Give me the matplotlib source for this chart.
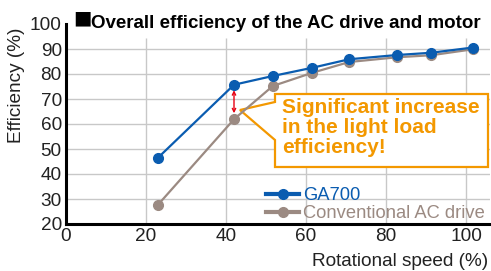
import matplotlib
matplotlib.use('Agg')
import matplotlib.pyplot as plt
from matplotlib.patches import Polygon

plt.rcParams['font.family'] = ['Liberation Sans', 'DejaVu Sans']

speed = [23, 42, 51.7, 61.6, 70.8, 82.8, 91.3, 101.8]
ga700 = [46.5, 75.7, 79.2, 82.5, 85.9, 87.6, 88.5, 90.6]
conventional = [27.7, 61.9, 75.2, 80.5, 84.8, 86.7, 87.5, 89.9]
xticks = [0, 20, 40, 60, 80, 100]
yticks = [20, 30, 40, 50, 60, 70, 80, 90, 100]
series_names = ['GA700', 'Conventional AC drive']
title = 'Overall efficiency of the AC drive and motor'
callout_text = 'Significant increase\nin the light load\nefficiency!'

BLUE = '#0a5cb0'
GRAY = '#9b8a82'
ORANGE = '#f39800'
GRID = '#c8c8c8'
FS = 13.7

W, H = 491, 271
fig = plt.figure(figsize=(W / 100, H / 100), dpi=100)


def fx(x):
    return x / W


def fy(y):
    return 1 - y / H


ax = fig.add_axes([fx(66), fy(224), fx(490) - fx(66), fy(24) - fy(224)])
ax.set_xlim(0, 106)
ax.set_ylim(20, 100)

# grid
for yv in yticks[1:-1]:
    ax.axhline(yv, color=GRID, lw=1.0, zorder=1)
for xv in xticks[1:]:
    ax.vlines(xv, 20, 94.4, color=GRID, lw=1.0, zorder=1)

ax.plot(speed, conventional, color=GRAY, lw=1.6, marker='o', ms=7,
        zorder=3, label=series_names[1])
ax.plot(speed, ga700, color=BLUE, lw=1.6, marker='o', ms=7,
        zorder=4, label=series_names[0])

for s in ['top', 'right']:
    ax.spines[s].set_visible(False)
for s in ['left', 'bottom']:
    ax.spines[s].set_linewidth(2.2)
    ax.spines[s].set_color('black')

ax.set_xticks(xticks)
ax.set_yticks(yticks)
ax.tick_params(length=0, labelsize=FS, colors='#222222', pad=3)
ax.tick_params(axis='x', pad=3)

# red double arrow between series at x=42
ax.annotate('', xy=(speed[1], ga700[1] - 2.2), xytext=(speed[1], conventional[1] + 2.4),
            arrowprops=dict(arrowstyle='<->', color='#e60012', lw=1.0,
                            mutation_scale=6, shrinkA=0, shrinkB=0), zorder=5)

# callout
pts = [(275, 94), (488, 94), (488, 167), (275, 167), (275, 140), (240, 110), (275, 102)]
poly = Polygon([(fx(x), fy(y)) for x, y in pts], closed=True, transform=fig.transFigure,
               facecolor='white', edgecolor=ORANGE, lw=1.6, zorder=2, joinstyle='miter')
ax.add_artist(poly)
poly.set_zorder(2)
fig.text(fx(282), fy(98), callout_text, color=ORANGE, fontsize=15, fontweight='bold',
         va='top', ha='left', linespacing=1.08)

# legend (GA700 first)
h_, l_ = ax.get_legend_handles_labels()
h_ = [h_[1], h_[0]]
l_ = [l_[1], l_[0]]
leg = ax.legend(h_, l_, loc='upper left', bbox_to_anchor=(fx(266), fy(187)),
                bbox_transform=fig.transFigure, frameon=False, fontsize=13.2,
                handlelength=1.8, handletextpad=0.2, labelspacing=0.05,
                borderaxespad=0, borderpad=0)
for t, c in zip(leg.get_texts(), [BLUE, GRAY]):
    t.set_color(c)
for h in leg.legend_handles:
    h.set_linewidth(3)
    h.set_markersize(7)

fig.text(fx(488), fy(271 - 1), 'Rotational speed (%)', ha='right', va='bottom',
         fontsize=FS, color='#222222')
fig.text(fx(17), fy(85), 'Efficiency (%)', rotation=90, ha='center', va='center',
         fontsize=FS, color='#222222')
fig.text(fx(73), fy(23.5), '■', ha='left', va='baseline', fontsize=14,
         family='DejaVu Sans', color='black')
fig.text(fx(91), fy(28), title, ha='left', va='baseline', fontsize=13.5,
         fontweight='bold', color='black')

fig.savefig('out.png', dpi=100)
